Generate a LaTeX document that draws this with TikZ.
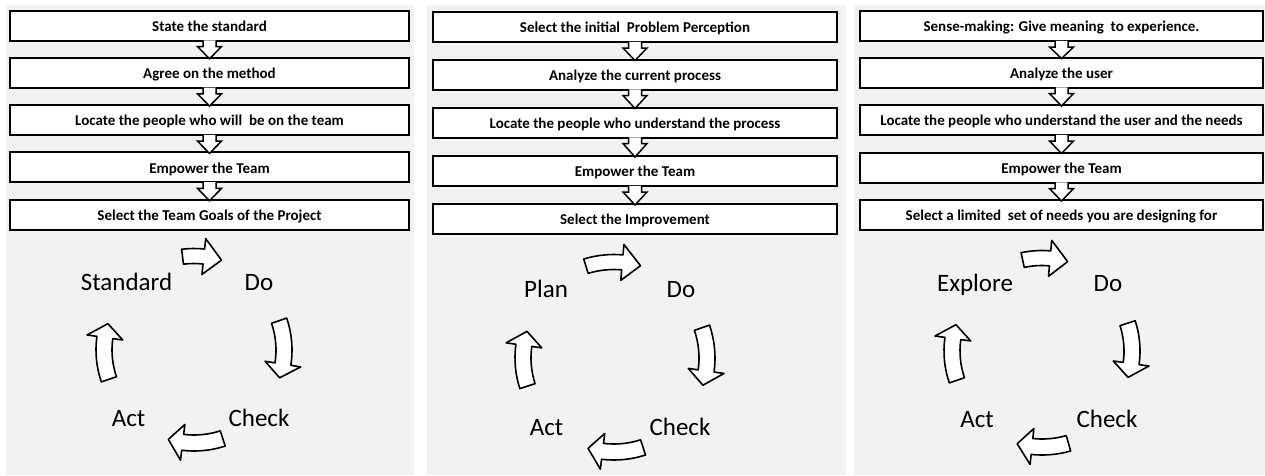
\documentclass[tikz,border=0pt]{standalone}
\usepackage{fontspec}
\setmainfont{Carlito}
\usetikzlibrary{calc}
\definecolor{panelgray}{HTML}{F2F2F2}
\tikzset{
  panelbg/.style={fill=panelgray, draw=none},
  stepbox/.style={draw=black, line width=2pt, fill=white, inner sep=0pt,
    minimum height=30, text height=11.5, text depth=0pt,
    font=\fontsize{15}{17}\selectfont\bfseries},
  boxA/.style={stepbox, minimum width=399},
  boxB/.style={stepbox, minimum width=404},
  boxC/.style={stepbox, minimum width=403},
  chevron/.style={fill=white, draw=black, line width=1.5pt, line join=miter},
  cyclabel/.style={anchor=base, inner sep=0pt, font=\fontsize{25}{30}\selectfont},
  cycarrowstyle/.style={fill=white, draw=black, line width=1.6pt, line join=round}
}
\newcommand{\chev}[2]{%
  \filldraw[chevron] ($(#1.south)+(-6.5,-1.2)$) -- ($(#1.south)+(-6.5,5)$) -- ($(#1.south)+(-12,5)$)
    -- ($(#2.north)+(0,2)$) -- ($(#1.south)+(12,5)$) -- ($(#1.south)+(6.5,5)$) -- ($(#1.south)+(6.5,-1.2)$);}
% center, radius, start angle, end angle, head angle, shaft half width
\newcommand{\cycarrow}[6]{%
  \draw[cycarrowstyle, shift={(#1)}] (#3:#2-#6) arc[start angle=#3, end angle=#4-#5, radius=#2-#6]
    -- (#4-#5:#2-18) -- (#4:#2) -- (#4-#5:#2+18) -- (#4-#5:#2+#6)
    arc[start angle=#4-#5, end angle=#3, radius=#2+#6] -- cycle;}
\begin{document}
\begin{tikzpicture}[x=1pt, y=-1pt]
\useasboundingbox (0,0) rectangle (1265,475);
\fill[white] (0,0) rectangle (1265,475);
% panels
\fill[panelbg] (6,5) rectangle (414,475);
\fill[panelbg] (427,5) rectangle (846,475);
\fill[panelbg] (854,5) rectangle (1265,475);

% ---------- Panel 1 ----------
\node[boxA] (a1) at (209.5,25.5) {State the standard};
\node[boxA] (a2) at (209.5,72.8) {Agree on the method};
\node[boxA] (a3) at (209.5,120.1) {Locate the people who will\ \ be on the team};
\node[boxA] (a4) at (209.5,167.4) {Empower the Team};
\node[boxA] (a5) at (209.5,214.7) {Select the Team Goals of the Project};
\chev{a1}{a2}\chev{a2}{a3}\chev{a3}{a4}\chev{a4}{a5}

\node[cyclabel] (a-std) at (126.5,290) {Standard};
\node[cyclabel] (a-do) at (259,290) {Do};
\node[cyclabel] (a-check) at (259,426) {Check};
\node[cyclabel] (a-act) at (128.5,426) {Act};
\coordinate (c1) at (194,350);
\cycarrow{c1}{94}{-97}{-73}{11}{7.5}
\cycarrow{c1}{90}{-19}{18}{9}{8}
\cycarrow{c1}{93}{72}{106}{9}{8}
\cycarrow{c1}{90}{161}{197}{9}{8}

% ---------- Panel 2 ----------
\node[boxB] (b1) at (635,27) {Select the initial\ \ Problem Perception};
\node[boxB] (b2) at (635,74.5) {Analyze the current process};
\node[boxB] (b3) at (635,122.5) {Locate the people who understand the process};
\node[boxB] (b4) at (635,171) {Empower the Team};
\node[boxB] (b5) at (635,219) {Select the Improvement};
\chev{b1}{b2}\chev{b2}{b3}\chev{b3}{b4}\chev{b4}{b5}

\node[cyclabel] (b-plan) at (546,297) {Plan};
\node[cyclabel] (b-do) at (681,297) {Do};
\node[cyclabel] (b-check) at (680,435) {Check};
\node[cyclabel] (b-act) at (546.5,435) {Act};
\coordinate (c2) at (614,358);
\cycarrow{c2}{96}{-107}{-74}{11}{7.5}
\cycarrow{c2}{93}{-19}{17}{9}{8}
\cycarrow{c2}{94}{72}{106}{9}{8}
\cycarrow{c2}{91}{162}{197}{9}{8}

% ---------- Panel 3 ----------
\node[boxC] (d1) at (1061.5,26) {Sense-making: Give meaning\ \ to experience.};
\node[boxC] (d2) at (1061.5,72.5) {Analyze the user};
\node[boxC] (d3) at (1061.5,120) {Locate the people who understand the user and the needs};
\node[boxC] (d4) at (1061.5,167.5) {Empower the Team};
\node[boxC] (d5) at (1061.5,215) {Select a limited\ \ set of needs you are designing for};
\chev{d1}{d2}\chev{d2}{d3}\chev{d3}{d4}\chev{d4}{d5}

\node[cyclabel] (d-exp) at (975,291) {Explore};
\node[cyclabel] (d-do) at (1108,291) {Do};
\node[cyclabel] (d-check) at (1107,427) {Check};
\node[cyclabel] (d-act) at (977,427) {Act};
\coordinate (c3) at (1042,351);
\cycarrow{c3}{93}{-102}{-74}{11}{7.5}
\cycarrow{c3}{90}{-18}{17}{9}{8}
\cycarrow{c3}{96}{74}{105}{9}{8}
\cycarrow{c3}{90}{161}{197}{9}{8}
\end{tikzpicture}
\end{document}
